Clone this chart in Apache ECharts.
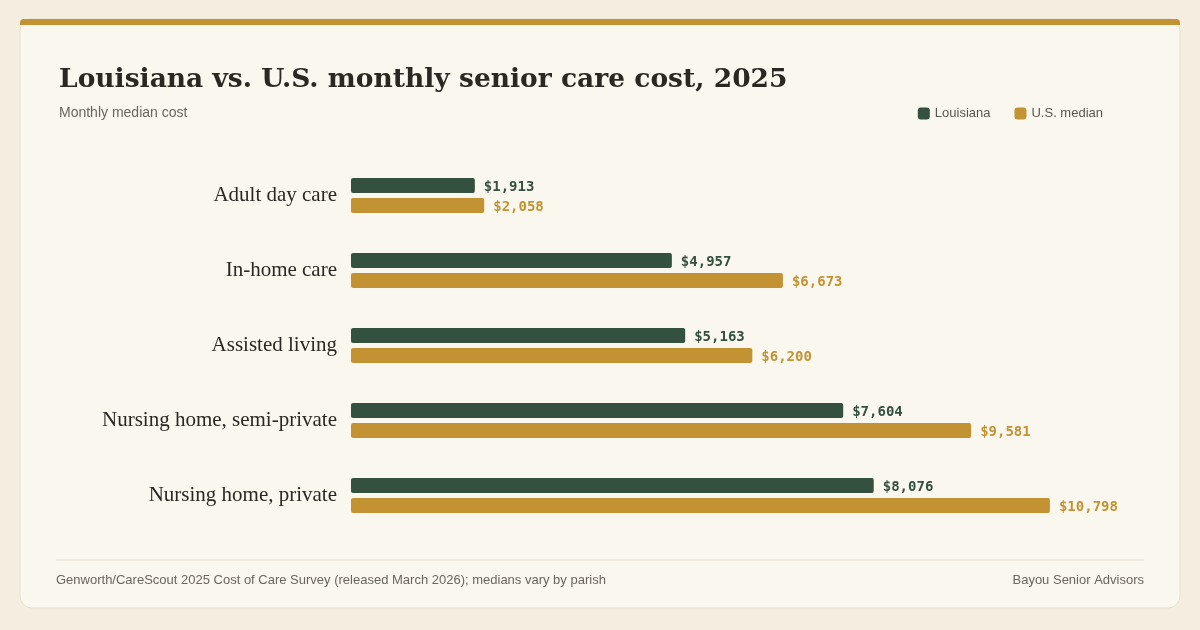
<!DOCTYPE html>
<html>
<head>
<meta charset="utf-8">
<script src="https://cdn.jsdelivr.net/npm/echarts@6/dist/echarts.min.js"></script>
<style>
  html, body { margin: 0; padding: 0; background: #f4eee1; }
  #chart { width: 1200px; height: 630px; }
</style>
</head>
<body>
<div id="chart"></div>
<script>
var categories = ['Adult day care', 'In-home care', 'Assisted living', 'Nursing home, semi-private', 'Nursing home, private'];
var louisiana = [1913, 4957, 5163, 7604, 8076];
var usMedian = [2058, 6673, 6200, 9581, 10798];

var green = '#34503f';
var gold = '#c39333';

var myChart = echarts.init(document.getElementById('chart'));

function money(v) {
	return '$' + v.value.toLocaleString('en-US');
}

var option = {
	animation: false,
	backgroundColor: '#f4eee1',
	graphic: [
		{ type: 'rect', z: -10, shape: { x: 20, y: 19, width: 1160, height: 589, r: 12 },
		  style: { fill: '#faf7ef', stroke: '#e6dfcf', lineWidth: 1 } },
		{ type: 'rect', z: -9, shape: { x: 20, y: 19, width: 1160, height: 6, r: [4, 4, 0, 0] },
		  style: { fill: gold } },
		{ type: 'line', shape: { x1: 56, y1: 560, x2: 1144, y2: 560 },
		  style: { stroke: '#e3dccb', lineWidth: 1 } },
		{ type: 'text', left: 56, top: 574,
		  style: { text: 'Genworth/CareScout 2025 Cost of Care Survey (released March 2026); medians vary by parish',
		           font: '13px "Liberation Sans", Arial, sans-serif', fill: '#6b665c' } },
		{ type: 'text', right: 56, top: 574,
		  style: { text: 'Bayou Senior Advisors',
		           font: '13px "Liberation Sans", Arial, sans-serif', fill: '#6b665c' } }
	],
	title: {
		text: 'Louisiana vs. U.S. monthly senior care cost, 2025',
		subtext: 'Monthly median cost',
		left: 54, top: 62, itemGap: 12,
		textStyle: { fontFamily: '"DejaVu Serif", serif', fontWeight: 'bold', fontSize: 26.5, color: '#2b2824' },
		subtextStyle: { fontFamily: '"Liberation Sans", Arial, sans-serif', fontSize: 14, color: '#6b665c' }
	},
	legend: {
		right: 92, top: 102,
		itemWidth: 12, itemHeight: 12, itemGap: 24,
		icon: 'roundRect',
		textStyle: { fontFamily: '"Liberation Sans", Arial, sans-serif', fontSize: 13, color: '#5a554c' },
		data: ['Louisiana', 'U.S. median']
	},
	grid: { left: 351, top: 158, width: 712, height: 375 },
	xAxis: {
		type: 'value', min: 0, max: 11000,
		show: false
	},
	yAxis: {
		type: 'category', inverse: true, data: categories,
		axisLine: { show: false }, axisTick: { show: false },
		axisLabel: { margin: 14, fontFamily: '"Liberation Serif", serif', fontSize: 21, color: '#2b2824' }
	},
	series: [
		{
			name: 'Louisiana', type: 'bar', data: louisiana,
			barWidth: 15, barGap: '33%',
			itemStyle: { color: green, borderRadius: 2 },
			label: { show: true, position: 'right', distance: 9, offset: [0, 2], formatter: money,
				fontFamily: '"DejaVu Sans Mono", monospace', fontWeight: 'bold', fontSize: 14, color: green }
		},
		{
			name: 'U.S. median', type: 'bar', data: usMedian,
			barWidth: 15,
			itemStyle: { color: gold, borderRadius: 2 },
			label: { show: true, position: 'right', distance: 9, offset: [0, 2], formatter: money,
				fontFamily: '"DejaVu Sans Mono", monospace', fontWeight: 'bold', fontSize: 14, color: gold }
		}
	]
};
myChart.setOption(option);
</script>
</body>
</html>
